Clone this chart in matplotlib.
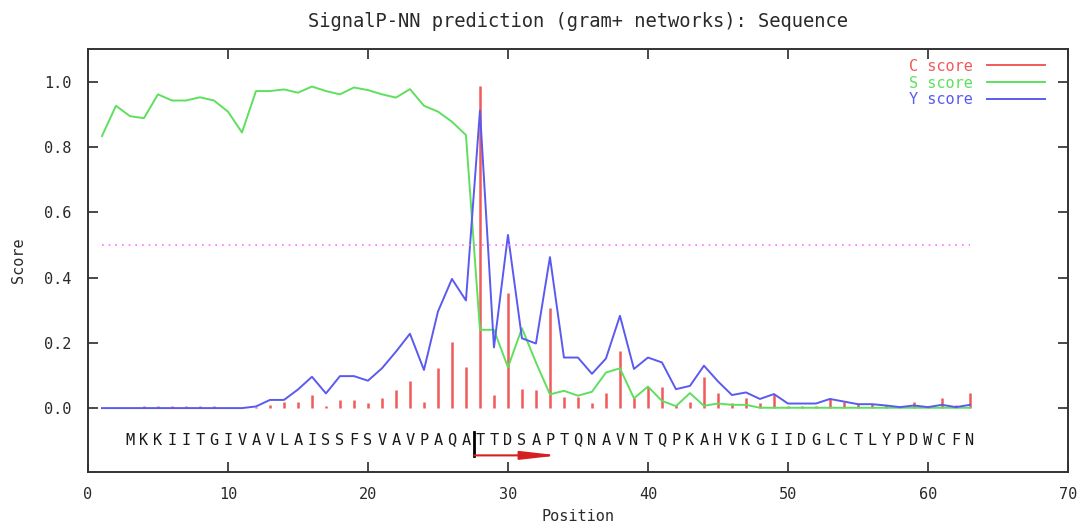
import numpy as np
import matplotlib
matplotlib.use('Agg')
import matplotlib.pyplot as plt
from matplotlib.lines import Line2D

# sequence positions and the three SignalP-NN scores
positions = np.arange(1, 64)

c_score = [0.001, 0.001, 0.001, 0.005, 0.005, 0.005, 0.005, 0.005, 0.005, 0.001,
           0.001, 0.002, 0.010, 0.020, 0.020, 0.040, 0.005, 0.025, 0.025, 0.015,
           0.030, 0.055, 0.084, 0.020, 0.122, 0.203, 0.127, 0.988, 0.040, 0.352,
           0.060, 0.055, 0.306, 0.035, 0.035, 0.015, 0.045, 0.176, 0.030, 0.066,
           0.065, 0.008, 0.020, 0.094, 0.045, 0.015, 0.030, 0.015, 0.043, 0.005,
           0.005, 0.005, 0.030, 0.020, 0.012, 0.012, 0.008, 0.005, 0.020, 0.005,
           0.030, 0.010, 0.045]

s_score = [0.834, 0.927, 0.895, 0.889, 0.962, 0.943, 0.943, 0.953, 0.943, 0.909,
           0.845, 0.972, 0.972, 0.977, 0.967, 0.986, 0.972, 0.962, 0.983, 0.975,
           0.962, 0.952, 0.978, 0.927, 0.909, 0.878, 0.837, 0.240, 0.240, 0.125,
           0.245, 0.140, 0.042, 0.053, 0.038, 0.050, 0.109, 0.122, 0.030, 0.066,
           0.022, 0.006, 0.046, 0.007, 0.014, 0.010, 0.010, 0.001, 0.001, 0.001,
           0.001, 0.001, 0.001, 0.001, 0.001, 0.001, 0.001, 0.001, 0.001, 0.001,
           0.001, 0.001, 0.001]

y_score = [0.000, 0.000, 0.000, 0.000, 0.000, 0.000, 0.000, 0.000, 0.000, 0.000,
           0.000, 0.005, 0.025, 0.025, 0.057, 0.096, 0.045, 0.098, 0.098, 0.084,
           0.122, 0.173, 0.228, 0.117, 0.296, 0.396, 0.330, 0.912, 0.186, 0.531,
           0.214, 0.198, 0.463, 0.155, 0.155, 0.105, 0.152, 0.283, 0.120, 0.155,
           0.140, 0.058, 0.068, 0.130, 0.082, 0.040, 0.048, 0.028, 0.043, 0.014,
           0.014, 0.014, 0.028, 0.020, 0.012, 0.012, 0.008, 0.003, 0.008, 0.003,
           0.010, 0.003, 0.010]

sequence = "MKKIITGIVAVLAISSFSVAVPAQATTDSAPTQNAVNTQPKAHVKGIIDGLCTLYPDWCFN"
seq_start = 3
cleavage_pos = 28
cutoff = 0.5

red = '#f05a5a'
green = '#5ee05e'
blue = '#5a5af0'
txt = '#2a2a2a'

plt.rcParams['font.family'] = ['DejaVu Sans Mono']

fig = plt.figure(figsize=(10.82, 5.24), dpi=100)
ax = fig.add_axes([0.0813, 0.0992, 0.9057, 0.8073])

ax.vlines(positions, 0, c_score, colors=red, lw=1.8)
ax.plot(positions, s_score, color=green, lw=1.4)
ax.plot(positions, y_score, color=blue, lw=1.4)
ax.plot([positions[0], positions[-1]], [cutoff, cutoff], color='#ff70ff',
        lw=1.2, linestyle=(0, (1, 3)))

# sequence letters under the curves
for i, aa in enumerate(sequence):
    ax.text(seq_start + i, -0.098, aa, ha='center', va='center',
            fontsize=11, color='#1a1a1a')

# cleavage site marker
cx = cleavage_pos - 0.4
ax.plot([cx, cx], [-0.074, -0.148], color='black', lw=2)
ax.annotate('', xy=(cx + 6, -0.145), xytext=(cx, -0.145),
            arrowprops=dict(arrowstyle='-|>,head_length=2.2,head_width=0.25',
                            color='#d42020', lw=1.5, shrinkA=0, shrinkB=0))

ax.set_xlim(0, 70)
ax.set_ylim(-0.196, 1.101)
ax.set_xticks(range(0, 71, 10))
ax.set_yticks([0.0, 0.2, 0.4, 0.6, 0.8, 1.0])
ax.set_yticklabels(['0.0', '0.2', '0.4', '0.6', '0.8', '1.0'])
ax.tick_params(direction='in', length=7, width=1.2, top=True, right=True,
               labelsize=11, colors=txt, pad=12)
ax.tick_params(axis='x', pad=11)
for sp in ax.spines.values():
    sp.set_linewidth(1.4)
    sp.set_color('#333333')

ax.set_xlabel('Position', fontsize=11, color=txt, labelpad=5)
ax.set_ylabel('Score', fontsize=11, color=txt, labelpad=13)
ax.set_title('SignalP-NN prediction (gram+ networks): Sequence',
             fontsize=13.5, color=txt, pad=16)

handles = [Line2D([], [], color=red, lw=1.4),
           Line2D([], [], color=green, lw=1.4),
           Line2D([], [], color=blue, lw=1.4)]
leg = ax.legend(handles, ['C score', 'S score', 'Y score'], loc='upper right',
                bbox_to_anchor=(0.9765, 0.977), frameon=False, markerfirst=False,
                handlelength=3.8, handletextpad=0.9, labelspacing=0.12,
                borderpad=0, borderaxespad=0, fontsize=11,
                labelcolor=[red, green, blue])

fig.savefig('out.png', dpi=100)
